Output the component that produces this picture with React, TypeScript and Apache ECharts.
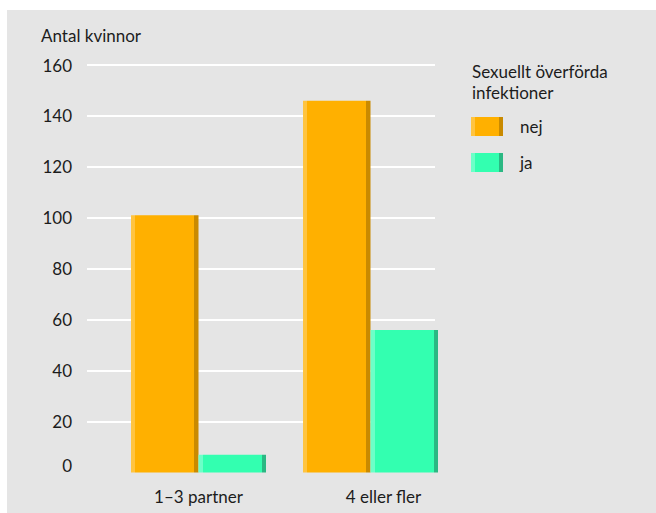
import React, { useEffect, useRef } from "react";
import * as echarts from "echarts";

const categories = ["1–3 partner", "4 eller fler"];
const seriesNames = ["nej", "ja"];
const nejValues = [101, 146];
const jaValues = [7, 56];
const yTicks = [0, 20, 40, 60, 80, 100, 120, 140, 160];
const yTitle = "Antal kvinnor";
const legendTitle = "Sexuellt överförda\ninfektioner";

const FONT = "Lato";
const TEXT = "#1c1c1c";

function barGrad(light: string, main: string, dark: string, edge: number) {
  return {
    type: "linear",
    x: 0,
    y: 0,
    x2: 1,
    y2: 0,
    colorStops: [
      { offset: 0, color: light },
      { offset: edge, color: light },
      { offset: edge, color: main },
      { offset: 1 - edge, color: main },
      { offset: 1 - edge, color: dark },
      { offset: 1, color: dark },
    ],
  };
}

const ORANGE = ["#ffc440", "#ffb000", "#c98a00"];
const TEAL = ["#6dffc8", "#33ffb0", "#2bb883"];

export default function App() {
  const ref = useRef<HTMLDivElement>(null);
  useEffect(() => {
    if (!ref.current) return;
    const chart = echarts.init(ref.current, null, { renderer: "svg" });
    const yMin = yTicks[0];
    const yMax = yTicks[yTicks.length - 1];
    const interval = yTicks[1] - yTicks[0];
    chart.setOption({
      animation: false,
      backgroundColor: "#e5e5e5",
      textStyle: { fontFamily: FONT, color: TEXT },
      title: [
        {
          text: yTitle,
          left: 34,
          top: 17,
          padding: 0,
          textStyle: { fontFamily: FONT, fontSize: 17, fontWeight: "normal", color: TEXT },
        },
        {
          text: legendTitle,
          left: 465,
          top: 51,
          padding: 0,
          textStyle: {
            fontFamily: FONT,
            fontSize: 17,
            fontWeight: "normal",
            color: TEXT,
            lineHeight: 21,
          },
        },
      ],
      legend: {
        orient: "vertical",
        left: 464,
        top: 107,
        padding: 0,
        itemWidth: 32,
        itemHeight: 19,
        itemGap: 17,
        icon: "rect",
        textStyle: { fontFamily: FONT, fontSize: 17, color: TEXT, padding: [0, 0, 0, 12] },
        data: [
          { name: seriesNames[0], itemStyle: { color: barGrad(ORANGE[0], ORANGE[1], ORANGE[2], 0.125) } },
          { name: seriesNames[1], itemStyle: { color: barGrad(TEAL[0], TEAL[1], TEAL[2], 0.125) } },
        ],
      },
      grid: [
        { left: 80, top: 55, width: 348, height: 407.5 },
        { left: 105.5, top: 55, width: 344, height: 407.5 },
      ],
      xAxis: [
        { gridIndex: 0, type: "value", show: false, min: 0, max: 1 },
        {
          gridIndex: 1,
          type: "category",
          data: [
            { value: categories[0] },
            { value: categories[1], textStyle: { padding: [0, 0, 0, 26] } },
          ],
          axisLine: { show: false },
          axisTick: { show: false },
          splitLine: { show: false },
          axisLabel: { fontFamily: FONT, fontSize: 17, color: TEXT, margin: 15 },
        },
      ],
      yAxis: [
        {
          gridIndex: 0,
          type: "value",
          min: yMin,
          max: yMax,
          interval,
          axisLine: { show: false },
          axisTick: { show: false },
          splitLine: { show: true, showMinLine: false, lineStyle: { color: "#ffffff", width: 2 } },
          axisLabel: {
            fontFamily: FONT,
            fontSize: 17,
            color: TEXT,
            margin: 15,
            formatter: (v: number) => (v === 0 ? "{z|0}" : String(v)),
            rich: { z: { fontFamily: FONT, fontSize: 17, color: TEXT, padding: [0, 0, 14, 0] } },
          },
        },
        { gridIndex: 1, type: "value", min: yMin, max: yMax, interval, show: false, splitLine: { show: false } },
      ],
      series: [
        {
          name: seriesNames[0],
          type: "bar",
          xAxisIndex: 1,
          yAxisIndex: 1,
          data: nejValues,
          barWidth: 67.5,
          barGap: "0%",
          itemStyle: { color: barGrad(ORANGE[0], ORANGE[1], ORANGE[2], 0.06) },
        },
        {
          name: seriesNames[1],
          type: "bar",
          xAxisIndex: 1,
          yAxisIndex: 1,
          data: jaValues,
          barWidth: 67.5,
          barGap: "0%",
          itemStyle: { color: barGrad(TEAL[0], TEAL[1], TEAL[2], 0.06) },
        },
      ],
    });
    return () => chart.dispose();
  }, []);
  return (
    <div
      ref={ref}
      style={{ position: "absolute", left: 7, top: 10, width: 649, height: 503 }}
    />
  );
}
